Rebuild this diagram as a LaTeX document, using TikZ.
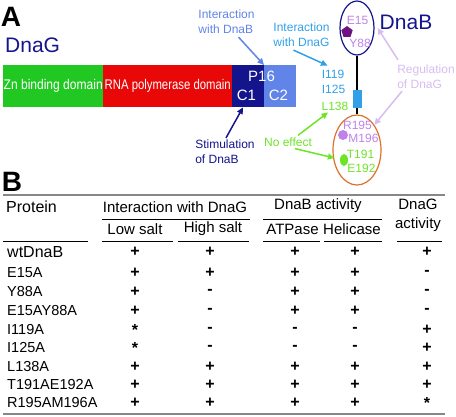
\documentclass[tikz,border=0pt]{standalone}
\usepackage{fontspec}
\usepackage{graphicx}
\setmainfont{Liberation Sans}
\usetikzlibrary{shapes.geometric, arrows.meta, positioning, calc}
\definecolor{navyblue}{RGB}{20, 20, 140}
\definecolor{zngreen}{RGB}{34, 200, 34}
\definecolor{polred}{RGB}{232, 8, 8}
\definecolor{ctblue}{RGB}{96, 132, 232}
\definecolor{skyblue}{RGB}{50, 160, 232}
\definecolor{limegreen}{RGB}{110, 228, 40}
\definecolor{lilac}{RGB}{190, 130, 232}
\definecolor{plum}{RGB}{110, 20, 130}
\definecolor{palelilac}{RGB}{215, 188, 242}
\definecolor{rustorange}{RGB}{222, 112, 40}
\definecolor{rulegrey}{RGB}{135, 135, 135}

\begin{document}
\begin{tikzpicture}[x=1pt, y=-1pt,
  lbl/.style={font=\fontsize{12}{15}\selectfont, inner sep=0pt, align=left},
  arr/.style={-{Triangle[length=6.5pt, width=6pt]}, line width=1.5pt},
  dom/.style={rectangle, anchor=north west, minimum height=42pt, inner sep=0pt, text=white, font=\fontsize{14}{14}\selectfont},
  hdr/.style={font=\fontsize{15}{19}\selectfont, inner sep=0pt},
  symb/.style={font=\fontsize{16}{16}\selectfont\bfseries, inner sep=0pt}]
  \useasboundingbox (0,0) rectangle (456,416);

  % panel A
  \node[font=\fontsize{28}{28}\selectfont\bfseries, inner sep=0pt] (labA) at (11,17) {A};
  \node[font=\fontsize{21}{21}\selectfont, text=navyblue, inner sep=0pt, anchor=west] (dnag) at (5,45) {DnaG};

  % DnaG domains
  \node[dom, fill=zngreen, minimum width=100pt] (zn) at (3,65) {\scalebox{0.86}[1]{Zn binding domain}};
  \node[dom, fill=polred, minimum width=129pt] (rnap) at (103,65) {\scalebox{0.81}[1]{RNA polymerase domain}};
  \node[dom, fill=navyblue, minimum width=32pt] (ctone) at (232,65) {};
  \node[dom, fill=ctblue, minimum width=32pt] (cttwo) at (264,65) {};
  \node[font=\fontsize{15}{15}\selectfont, text=white, inner sep=0pt] (p16) at (261.5,76) {P16};
  \node[font=\fontsize{15}{15}\selectfont, text=white, inner sep=0pt] (cone) at (246.5,95) {C1};
  \node[font=\fontsize{15}{15}\selectfont, text=white, inner sep=0pt] (ctwo) at (278.5,95) {C2};

  % DnaB
  \node[font=\fontsize{21}{21}\selectfont, text=navyblue, inner sep=0pt] (dnab) at (406,22) {DnaB};
  \node[ellipse, draw=navyblue, line width=1.2pt, minimum width=34pt, minimum height=54pt, inner sep=0pt] (nterm) at (357,28) {};
  \node[lbl, text=lilac] (e15) at (357.5,20) {E15};
  \node[lbl, text=lilac] (y88) at (360,43) {Y88};
  \node[regular polygon, regular polygon sides=5, fill=plum, minimum size=12pt, inner sep=0pt] (pent) at (347,32) {};
  \node[ellipse, draw=rustorange, line width=1.2pt, minimum width=48pt, minimum height=70pt, inner sep=0pt] (cterm) at (357,150) {};
  \draw[line width=1.2pt] (nterm.south) -- (cterm.north);
  \node[rectangle, fill=skyblue, minimum width=9pt, minimum height=18pt, inner sep=0pt] (linker) at (357.5,99) {};
  \node[lbl, text=lilac] (r195) at (357.5,125) {R195};
  \node[circle, fill=lilac, minimum size=10pt, inner sep=0pt] (rdot) at (343,135) {};
  \node[lbl, text=lilac] (m196) at (363.5,138) {M196};
  \node[lbl, text=limegreen] (t191) at (360.5,154) {T191};
  \node[ellipse, fill=limegreen, minimum width=8pt, minimum height=12pt, inner sep=0pt] (gdot) at (344,160) {};
  \node[lbl, text=limegreen] (e192) at (361.5,168) {E192};
  \node[lbl, text=skyblue] (i119) at (333.5,81.5) {I119\\I125};
  \node[lbl, text=limegreen] (l138) at (335,106) {L138};

  % annotations
  \node[lbl, text=ctblue] (intb) at (226.5,22) {Interaction\\with DnaB};
  \node[lbl, text=skyblue] (intg) at (301.5,35) {Interaction\\with DnaG};
  \node[lbl, text=navyblue] (stim) at (225,152) {Stimulation\\of DnaB};
  \node[lbl, text=palelilac] (regul) at (426,77) {Regulation\\of DnaG};
  \node[lbl, text=limegreen] (noeff) at (288,142) {No effect};

  \draw[arr, ctblue] ([xshift=12pt, yshift=-3pt]intb.south) -- (cttwo.north west);
  \draw[arr, skyblue] ([xshift=-8pt, yshift=-3pt]intg.south) -- ([xshift=-6pt, yshift=4pt]i119.north);
  \draw[arr, navyblue] ([xshift=1pt, yshift=2pt]stim.north) -- ([xshift=11pt]ctone.south west);
  \draw[arr, palelilac] ([xshift=-28pt, yshift=5pt]regul.north) -- ([xshift=3pt]nterm.east);
  \draw[arr, palelilac] ([xshift=-24pt, yshift=-2pt]regul.south) -- (cterm.north east);
  \draw[arr, limegreen] ([xshift=10pt, yshift=2pt]noeff.north) -- ([xshift=-7pt, yshift=-2pt]l138.south);
  \draw[arr, limegreen] ([xshift=7pt, yshift=-2pt]noeff.south) -- ([xshift=2pt, yshift=-8pt]cterm.west);

  % panel B
  \node[font=\fontsize{28}{28}\selectfont\bfseries, inner sep=0pt] (labB) at (12,182) {B};
  \draw[rulegrey, line width=1.5pt] (3,195) -- (445,195);
  \draw[rulegrey, line width=2.5pt] (3,414) -- (445,414);

  \node[hdr, font=\fontsize{16}{16}\selectfont, anchor=west] (protein) at (6,207) {Protein};
  \node[hdr] (inter) at (175,207) {Interaction with DnaG};
  \node[hdr] (activ) at (318,206) {DnaB activity};
  \node[hdr, align=center] (gactiv) at (418,215) {DnaG\\activity};
  \node[hdr] (low) at (135,229) {Low salt};
  \node[hdr] (high) at (213,229) {High salt};
  \node[hdr] (atp) at (292.5,229) {ATPase};
  \node[hdr] (heli) at (352,229) {Helicase};

  \draw[line width=0.8pt] (102,219) -- (250,219);
  \draw[line width=0.8pt] (263,219) -- (382,219);
  \foreach \xa/\xb in {3/88, 102/173, 178/249, 263/320, 324/382, 397/442}
    \draw[line width=0.8pt] (\xa,241) -- (\xb,241);

  % rows
  \foreach \lab/\sz/\y/\ca/\cb/\cc/\cd/\ce [count=\i] in {
      wtDnaB/16/252/+/+/+/+/+,
      E15A/14.5/273/+/+/+/+/-,
      Y88A/14.5/292/+/-/+/+/-,
      E15AY88A/14.5/311/+/-/+/+/-,
      I119A/14.5/330/*/-/-/-/+,
      I125A/14.5/348/*/-/-/-/+,
      L138A/14.5/367/+/+/+/+/+,
      T191AE192A/14.5/385/+/+/+/+/+,
      R195AM196A/14.5/403/+/+/+/+/*} {
    \node[font=\fontsize{\sz}{\sz}\selectfont, inner sep=0pt, anchor=west] (row\i) at (7,\y) {\lab};
    \node[symb] (low\i) at (135,\y) {\ca};
    \node[symb] (high\i) at (210,\y) {\cb};
    \node[symb] (atp\i) at (295,\y) {\cc};
    \node[symb] (heli\i) at (355,\y) {\cd};
    \node[symb] (gact\i) at (427,\y) {\ce};
  }
\end{tikzpicture}
\end{document}
